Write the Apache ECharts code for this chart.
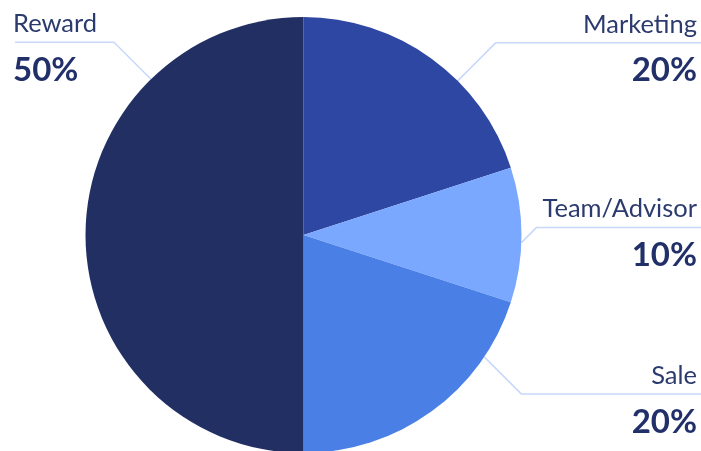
<!DOCTYPE html>
<html>
<head>
<meta charset="utf-8">
<script src="https://cdn.jsdelivr.net/npm/echarts@6/dist/echarts.min.js"></script>
<style>html,body{margin:0;padding:0;background:#fff}#c{width:701px;height:451px}</style>
</head>
<body>
<div id="c"></div>
<script>
const categories = ['Marketing', 'Team/Advisor', 'Sale', 'Reward'];
const values = [20, 10, 20, 50];
const colors = ['#2d47a3', '#7aa8ff', '#4a80e6', '#212f63'];

// label placement (styling): anchor angle on rim (deg, clockwise from top), diagonal length, directions
const labelAnchors = [
  { angle: 45, d: 38, sx: 1, sy: -1 },
  { angle: 92, d: 15, sx: 1, sy: -1 },
  { angle: 124, d: 37, sx: 1, sy: 1 },
  { angle: 315.6, d: 37, sx: -1, sy: -1 }
];
const CX = 303.5, CY = 235, R = 218;
const W = 701;

const chart = echarts.init(document.getElementById('c'), null, { renderer: 'canvas' });
chart.setOption({
  animation: false,
  series: [{
    type: 'pie',
    center: [CX, CY],
    radius: R,
    startAngle: 90,
    clockwise: true,
    avoidLabelOverlap: false,
    itemStyle: { borderWidth: 0 },
    emphasis: { disabled: true },
    data: categories.map((n, i) => ({ name: n, value: values[i], itemStyle: { color: colors[i] } })),
    label: {
      show: true,
      formatter: '{n|{b}}\n{v|{c}%}',
      rich: {
        n: { fontFamily: 'Lato', fontSize: 25.5, color: '#2c3b6e', lineHeight: 37 },
        v: { fontFamily: 'Lato', fontSize: 33, fontWeight: 'bold', color: '#22306a', lineHeight: 56 }
      }
    },
    labelLine: { show: true, lineStyle: { color: '#c8d8fb', width: 1.5 } },
    labelLayout: function (p) {
      const a = labelAnchors[p.dataIndex];
      const rad = a.angle * Math.PI / 180;
      const ax = CX + R * Math.sin(rad), ay = CY - R * Math.cos(rad);
      const ex = ax + a.sx * a.d, ey = ay + a.sy * a.d;
      const left = a.sx < 0;
      return {
        x: left ? 13 : W - 4,
        y: ey - 37,
        align: left ? 'left' : 'right',
        verticalAlign: 'top',
        labelLinePoints: [[ax, ay], [ex, ey], [left ? 15 : W, ey]]
      };
    }
  }]
});
</script>
</body>
</html>
